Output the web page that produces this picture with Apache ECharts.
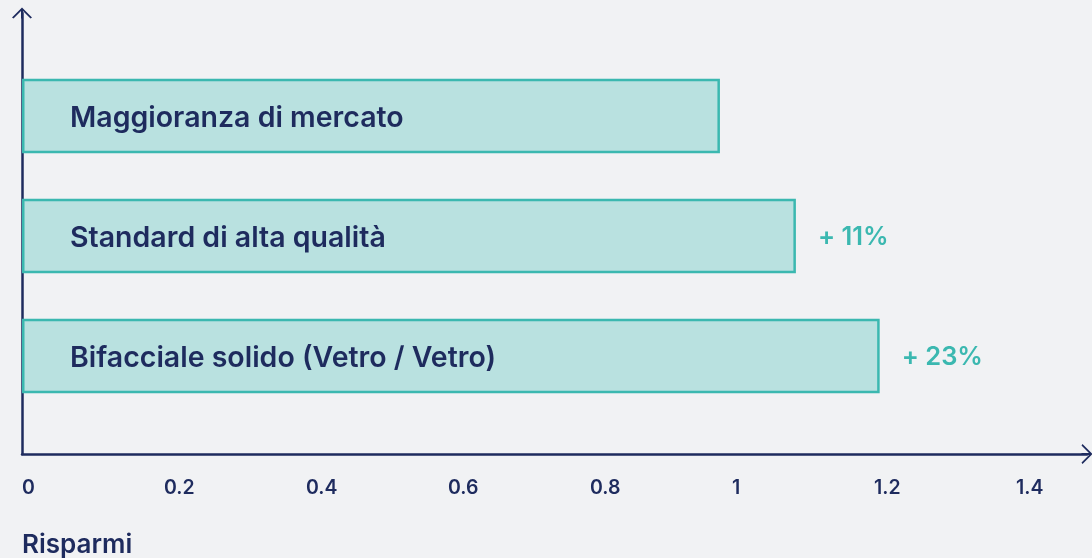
<!DOCTYPE html>
<html>
<head>
<meta charset="utf-8">
<script src="https://cdn.jsdelivr.net/npm/echarts@6/dist/echarts.min.js"></script>
<style>
html,body{margin:0;padding:0;background:#f1f2f4;}
#c{width:1092px;height:558px;}
</style>
</head>
<body>
<div id="c"></div>
<script>
const categories = ['Maggioranza di mercato', 'Standard di alta qualità', 'Bifacciale solido (Vetro / Vetro)'];
const values = [0.983, 1.09, 1.208];
const increments = ['', '+ 11%', '+ 23%'];
const axisTitle = 'Risparmi';

const NAVY = '#1e2b5e';
const TEAL = '#3bb8b0';
const FILL = '#b9e1e0';
const FONT = 'Inter';
const arrowPath = 'path://M10,0 L20,10 L18.5,11 L11,3.5 L11,11 L9,11 L9,3.5 L1.5,11 L0,10 Z';

const chart = echarts.init(document.getElementById('c'), null, {renderer: 'canvas'});
chart.setOption({
  backgroundColor: '#f1f2f4',
  animation: false,
  title: {
    text: axisTitle, left: 22, top: 532, padding: 0,
    textStyle: {color: NAVY, fontFamily: FONT, fontWeight: 600, fontSize: 26}
  },
  grid: [
    {left: 22, right: 5, top: 56, height: 360},
    {left: 22, right: 5, top: 13, bottom: 104}
  ],
  xAxis: [
    {gridIndex: 0, type: 'value', min: 0, max: 1.5, show: false},
    {gridIndex: 1, type: 'value', min: 0, max: 1.5, interval: 0.2,
      axisLine: {show: true, symbol: ['none', arrowPath], symbolSize: [20, 11],
        lineStyle: {color: NAVY, width: 2.5}},
      axisTick: {show: false}, splitLine: {show: false},
      axisLabel: {color: NAVY, fontFamily: FONT, fontWeight: 600, fontSize: 19.5, margin: 24, align: 'left',
        showMaxLabel: false,
        formatter: v => (Math.abs(v - 1.5) < 1e-6 ? '' : String(+v.toFixed(1)))}
    }
  ],
  yAxis: [
    {gridIndex: 0, type: 'category', data: categories, inverse: true, show: false},
    {gridIndex: 1, type: 'value', min: 0, max: 1,
      axisLine: {show: true, symbol: ['none', arrowPath], symbolSize: [20, 11],
        lineStyle: {color: NAVY, width: 2.5}},
      axisTick: {show: false}, splitLine: {show: false}, axisLabel: {show: false}}
  ],
  series: [
    {
      type: 'bar', xAxisIndex: 0, yAxisIndex: 0, data: values, barWidth: 74.5, z: 1,
      itemStyle: {color: FILL, borderColor: TEAL, borderWidth: 2.5},
      label: {show: true, position: 'insideLeft', distance: 48, color: NAVY, offset: [0, 2],
        fontFamily: FONT, fontWeight: 600, fontSize: 28.5,
        formatter: p => categories[p.dataIndex]}
    },
    {
      type: 'bar', xAxisIndex: 0, yAxisIndex: 0, data: values, barWidth: 74.5, barGap: '-100%', z: 0,
      itemStyle: {color: 'transparent'},
      label: {show: true, position: 'right', distance: 22, color: TEAL, offset: [0, 1],
        fontFamily: FONT, fontWeight: 600, fontSize: 25.5,
        formatter: p => increments[p.dataIndex]}
    }
  ]
});
</script>
</body>
</html>
